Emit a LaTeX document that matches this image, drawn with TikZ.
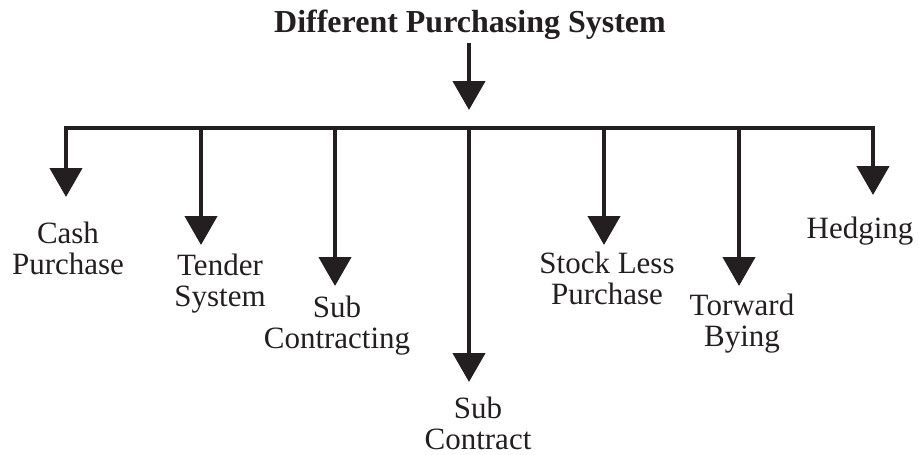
\documentclass[tikz,border=0pt]{standalone}
\usepackage{fontspec}
\setmainfont{Liberation Serif}
\usetikzlibrary{arrows.meta}
\definecolor{ink}{RGB}{35,31,32}
\begin{document}
\begin{tikzpicture}[x=1pt,y=-1pt,
  flow/.style={draw=ink,line width=4.5pt,-{Triangle[width=32pt,length=29pt]}},
  bar/.style={draw=ink,line width=4.5pt,line cap=rect},
  label/.style={text=ink,align=center,anchor=base,inner sep=0pt,
    font=\fontsize{31}{31}\selectfont},
  heading/.style={text=ink,anchor=base,inner sep=0pt,
    font=\fontsize{32}{32}\selectfont\bfseries}]
  \useasboundingbox (0,0) rectangle (919,455);

  % heading and the arrow down to the distribution bar
  \node[heading] (title) at (470,32) {Different Purchasing System};
  \coordinate (hub) at (469,110);
  \draw[flow,shorten <=4pt] (title.south -| hub) -- (hub);

  % distribution bar
  \coordinate (b1) at (66,128);
  \coordinate (b2) at (201,128);
  \coordinate (b3) at (335,128);
  \coordinate (b4) at (469,128);
  \coordinate (b5) at (604,128);
  \coordinate (b6) at (739,128);
  \coordinate (b7) at (873,128);
  \draw[bar] (b1) -- (b7);

  % arrow tips of the branches
  \coordinate (t1) at (66,197);
  \coordinate (t2) at (201,245);
  \coordinate (t3) at (335,286);
  \coordinate (t4) at (469,382);
  \coordinate (t5) at (604,245);
  \coordinate (t6) at (739,286);
  \coordinate (t7) at (873,195);
  \foreach \i in {1,...,7} {
    \draw[flow] (b\i) -- (t\i);
  }

  % branch labels (anchored on the baseline of their last line)
  \node[label] (cash)   at (68,274)  {Cash\\Purchase};
  \node[label] (tender) at (220,306) {Tender\\System};
  \node[label] (subcon) at (337,348) {Sub\\Contracting};
  \node[label] (subk)   at (478,449) {Sub\\Contract};
  \node[label] (stock)  at (607,304) {Stock Less\\Purchase};
  \node[label] (fwd)    at (742,346) {Torward\\Bying};
  \node[label] (hedge)  at (860,238) {Hedging};
\end{tikzpicture}
\end{document}
